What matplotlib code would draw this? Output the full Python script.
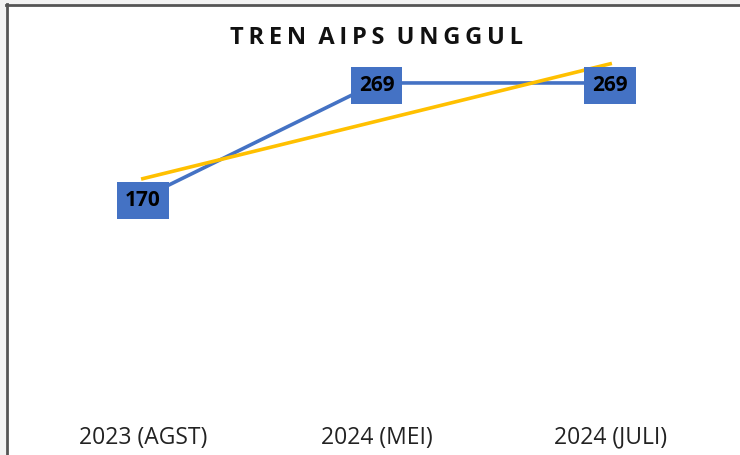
import matplotlib.pyplot as plt
from matplotlib.patches import Rectangle
import numpy as np

# data
categories = ["2023 (AGST)", "2024 (MEI)", "2024 (JULI)"]
values = [170, 269, 269]
title = "TREN AIPS UNGGUL"

blue = "#4472C4"
yellow = "#FFC000"

plt.rcParams['font.family'] = ['Open Sans', 'DejaVu Sans']

fig = plt.figure(figsize=(7.4, 4.55), dpi=100)
fig.patch.set_facecolor("white")

# window frame on top/left like the screenshot
fig.patches.append(Rectangle((0, 0), 6 / 740, 1, transform=fig.transFigure,
                             facecolor="#f3f3f3", edgecolor="none", zorder=0))
fig.patches.append(Rectangle((0, 1 - 4 / 455), 1, 4 / 455, transform=fig.transFigure,
                             facecolor="#f3f3f3", edgecolor="none", zorder=0))
fig.lines.append(plt.Line2D([6.5 / 740, 6.5 / 740], [0, 1 - 4 / 455], transform=fig.transFigure,
                            color="#555555", lw=2))
fig.lines.append(plt.Line2D([6 / 740, 1], [1 - 5 / 455, 1 - 5 / 455], transform=fig.transFigure,
                            color="#555555", lw=2))

ax = fig.add_axes([26 / 740, 1 - 395 / 455, 701 / 740, 348 / 455])
ax.set_facecolor("none")

x = np.arange(1, len(values) + 1)
ax.plot(x, values, color=blue, lw=2.6, zorder=2)

# linear trendline
k, b = np.polyfit(x, values, 1)
ax.plot(x, k * x + b, color=yellow, lw=2.6, zorder=3)

for xi, v in zip(x, values):
    ax.text(xi, v - 2, str(v), ha="center", va="center", fontsize=15, fontweight="bold",
            color="black", zorder=5,
            bbox=dict(boxstyle="square,pad=0.38", facecolor=blue, edgecolor="none"))

ax.set_xlim(0.5, 3.5)
ax.set_ylim(0, 300)
ax.set_xticks(x)
ax.set_xticklabels(categories, fontsize=16.5, color="#222222")
ax.tick_params(axis="x", length=0, pad=22)
ax.set_yticks([])
for s in ax.spines.values():
    s.set_visible(False)

spaced = "  ".join("\u2009".join(w) for w in title.split(" "))
fig.text(377 / 740, 1 - 38 / 455, spaced,
         ha="center", va="center", fontsize=17, fontweight="bold", color="#111111")

fig.savefig("out.png", dpi=100)
